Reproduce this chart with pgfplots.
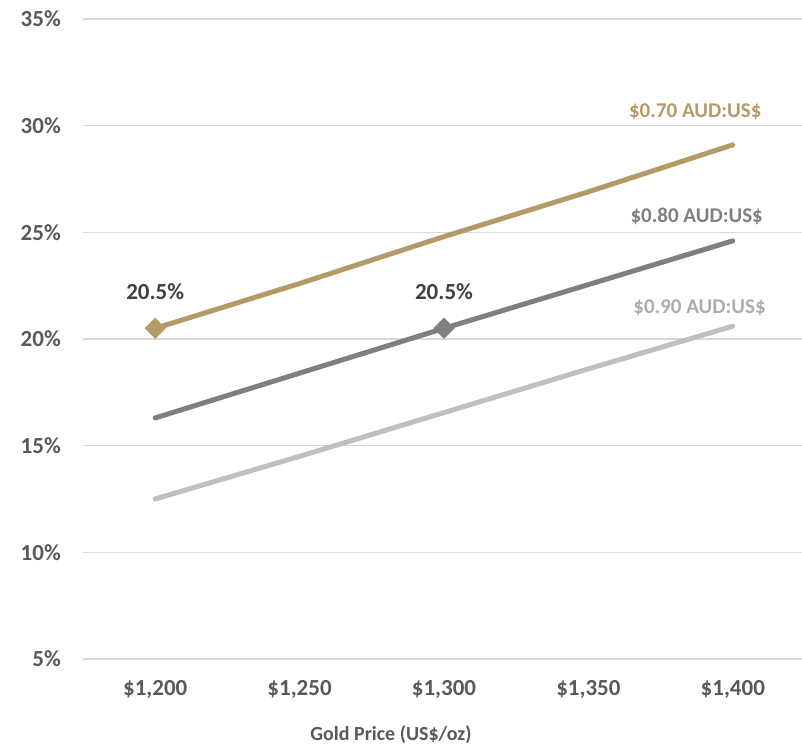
\documentclass[border=0pt]{standalone}
\usepackage{pgfplots}
\pgfplotsset{compat=1.18}
\usepackage{fontspec}
\setmainfont{Carlito}
\definecolor{goldc}{HTML}{B49A67}
\definecolor{darkc}{HTML}{7F7F7F}
\definecolor{lightc}{HTML}{BFBFBF}
\definecolor{lightt}{HTML}{ADADAD}
\definecolor{gridc}{HTML}{D9D9D9}
\definecolor{tickc}{HTML}{595959}
\definecolor{labc}{HTML}{404040}
\begin{document}
\begin{tikzpicture}[x=1pt,y=1pt]
\useasboundingbox (0,0) rectangle (802,746);
\begin{scope}
\clip (0,0) rectangle (802,746);
\begin{axis}[at={(83pt,87pt)}, anchor=south west, scale only axis,
  width=722pt, height=640pt,
  xmin=-0.5, xmax=4.5, ymin=5, ymax=35,
  ytick={5,10,15,20,25,30,35},
  yticklabel={\pgfmathparse{int(\tick)}\pgfmathresult\%},
  xtick={0,1,2,3,4},
  xticklabels={{\$1,200},{\$1,250},{\$1,300},{\$1,350},{\$1,400}},
  axis line style={draw=none},
  major tick length=0pt,
  ymajorgrids,
  grid style={color=gridc, line width=1.5pt},
  ticklabel style={font=\fontsize{23}{27}\selectfont\bfseries, text=tickc},
  yticklabel style={anchor=east, inner sep=0pt, xshift=-22pt},
  xticklabel style={anchor=north, inner sep=0pt, yshift=-21pt},
  /pgf/number format/assume math mode=true,
  clip=false,
]
\addplot[color=goldc, line width=5pt, line cap=round, no marks] coordinates {(0,20.5) (1,22.6) (2,24.8) (3,26.9) (4,29.1)};
\addplot[color=darkc, line width=5pt, line cap=round, no marks] coordinates {(0,16.3) (1,18.4) (2,20.5) (3,22.55) (4,24.6)};
\addplot[color=lightc, line width=5pt, line cap=round, no marks] coordinates {(0,12.5) (1,14.5) (2,16.55) (3,18.6) (4,20.6)};
\addplot[only marks, mark=square*, mark size=7pt, mark options={rotate=45, fill=goldc, draw=goldc, line width=1pt}] coordinates {(0,20.5)};
\addplot[only marks, mark=square*, mark size=7pt, mark options={rotate=45, fill=darkc, draw=darkc, line width=1pt}] coordinates {(2,20.5)};
\node[font=\fontsize{23}{27}\selectfont\bfseries, text=labc] at (axis cs:0,22.2) {20.5\%};
\node[font=\fontsize{23}{27}\selectfont\bfseries, text=labc] at (axis cs:2,22.2) {20.5\%};
\node[font=\fontsize{21}{25}\selectfont\bfseries, text=goldc] at (axis cs:3.74,30.64) {\$0.70 AUD:US\$};
\node[font=\fontsize{21}{25}\selectfont\bfseries, text=darkc] at (axis cs:3.75,25.76) {\$0.80 AUD:US\$};
\node[font=\fontsize{21}{25}\selectfont\bfseries, text=lightt] at (axis cs:3.77,21.45) {\$0.90 AUD:US\$};
\end{axis}
\end{scope}
\node[anchor=base, font=\fontsize{20}{24}\selectfont\bfseries, text=tickc] at (391,6) {Gold Price (US\$/oz)};
\end{tikzpicture}
\end{document}
